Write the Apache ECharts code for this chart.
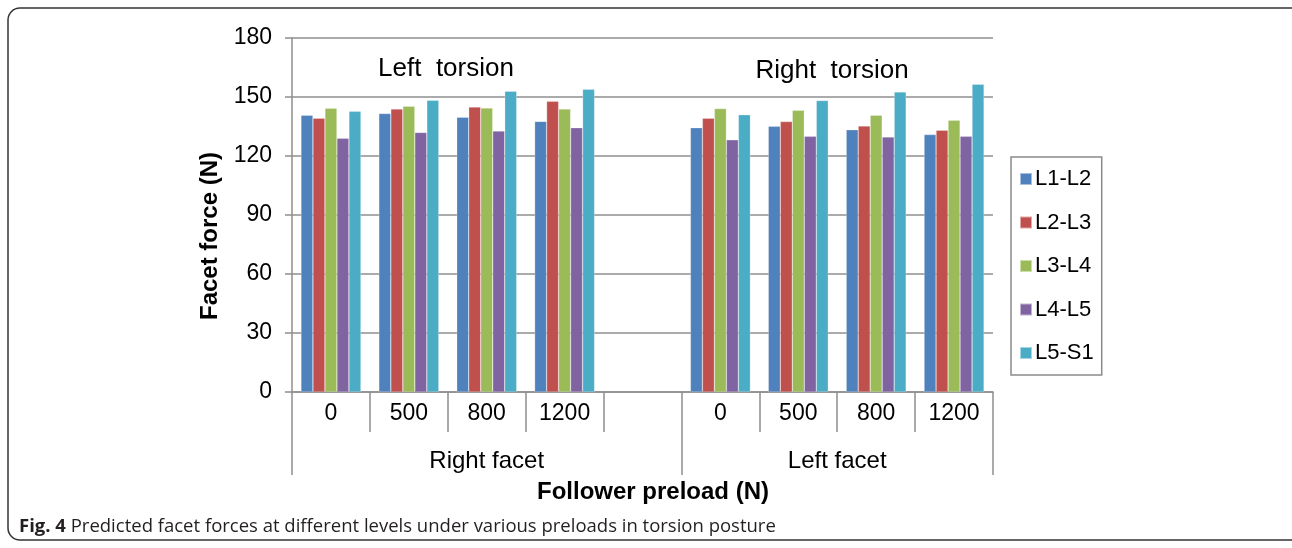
<!DOCTYPE html>
<html>
<head>
<meta charset="utf-8">
<script src="https://cdn.jsdelivr.net/npm/echarts@6/dist/echarts.min.js"></script>
<style>
html,body{margin:0;padding:0;background:#fff;}
#chart{width:1292px;height:548px;}
</style>
</head>
<body>
<div id="chart"></div>
<script>
// ---- data ----
const categories = ['0', '500', '800', '1200', '', '0', '500', '800', '1200'];
const groupLabels = ['Right facet', 'Left facet'];
const seriesNames = ['L1-L2', 'L2-L3', 'L3-L4', 'L4-L5', 'L5-S1'];
const L1_L2 = [140.7, 141.6, 139.7, 137.6, '-', 134.4, 135.1, 133.4, 130.9];
const L2_L3 = [139.2, 143.9, 144.9, 147.8, '-', 139.2, 137.5, 135.3, 133.1];
const L3_L4 = [144.3, 145.3, 144.4, 143.9, '-', 144.1, 143.2, 140.7, 138.2];
const L4_L5 = [129.0, 132.0, 132.7, 134.4, '-', 128.2, 130.0, 129.7, 130.0];
const L5_S1 = [142.7, 148.3, 152.9, 153.9, '-', 141.0, 148.2, 152.6, 156.5];
const yTicks = { min: 0, max: 180, interval: 30 };
const torsionLabels = ['Left  torsion', 'Right  torsion'];

const colors = ['#4F81BD', '#C0504D', '#9BBB59', '#8064A2', '#4BACC6'];
const seriesData = [L1_L2, L2_L3, L3_L4, L4_L5, L5_S1];

// group axis: 19 points spanning 9 categories at half-category steps
const groupAxis = [];
for (let k = 0; k <= 18; k++) groupAxis.push('');
groupAxis[5] = groupLabels[0];
groupAxis[14] = groupLabels[1];
const groupTickIdx = [0, 10, 18];

const axisGray = '#8f8f8f';
const font = '"Liberation Sans", Arial, sans-serif';

const chart = echarts.init(document.getElementById('chart'));
chart.setOption({
  animation: false,
  color: colors,
  grid: { left: 292, top: 38, width: 701, height: 354, containLabel: false },
  legend: {
    orient: 'vertical',
    left: 1011, top: 157,
    width: 94,
    padding: [11, 8, 11, 8],
    itemGap: 21.5,
    itemWidth: 12, itemHeight: 12,
    icon: 'rect',
    borderColor: '#8a8a8a', borderWidth: 1.5,
    textStyle: { fontFamily: font, fontSize: 22, color: '#000', padding: [0, 0, 0, -2] },
    data: seriesNames
  },
  xAxis: [
    {
      type: 'category',
      data: categories,
      position: 'bottom',
      axisLine: { lineStyle: { color: axisGray, width: 1.5 } },
      axisTick: { show: true, length: 40, lineStyle: { color: axisGray, width: 1.5 } },
      axisLabel: { interval: 0, margin: 10, fontFamily: font, fontSize: 23, color: '#000' }
    },
    {
      type: 'category',
      data: groupAxis,
      boundaryGap: false,
      position: 'bottom',
      axisLine: { show: false },
      axisTick: {
        show: true, length: 83,
        interval: (i) => groupTickIdx.includes(i),
        lineStyle: { color: axisGray, width: 1.5 }
      },
      axisLabel: { interval: 0, margin: 57, fontFamily: font, fontSize: 24, color: '#000' },
      splitLine: { show: false }
    }
  ],
  yAxis: {
    type: 'value',
    min: yTicks.min, max: yTicks.max, interval: yTicks.interval,
    axisLine: { show: true, lineStyle: { color: axisGray, width: 1.5 } },
    axisTick: { show: true, length: 7, lineStyle: { color: axisGray, width: 1.5 } },
    axisLabel: { margin: 20, fontFamily: font, fontSize: 23, color: '#000' },
    splitLine: { lineStyle: { color: axisGray, width: 1.5 } }
  },
  series: seriesNames.map((n, i) => ({
    name: n,
    type: 'bar',
    data: seriesData[i],
    barGap: '0%',
    barCategoryGap: '23%',
    itemStyle: { color: colors[i], borderColor: 'rgba(255,255,255,0.5)', borderWidth: 0.5 }
  })),
  graphic: [
    { type: 'rect', shape: { x: 8, y: 8, width: 1310, height: 532, r: 12 },
      style: { fill: 'none', stroke: '#333', lineWidth: 1.5 }, silent: true },
    { type: 'text', x: 446, y: 69, style: { text: torsionLabels[0], font: '26px ' + font, fill: '#000', align: 'center', verticalAlign: 'middle' } },
    { type: 'text', x: 832, y: 71, style: { text: torsionLabels[1], font: '26px ' + font, fill: '#000', align: 'center', verticalAlign: 'middle' } },
    { type: 'text', x: 210, y: 236, rotation: Math.PI / 2, style: { text: 'Facet force (N)', font: 'bold 24px ' + font, fill: '#000', align: 'center', verticalAlign: 'middle' } },
    { type: 'text', x: 653, y: 492, style: { text: 'Follower preload (N)', font: 'bold 24px ' + font, fill: '#000', align: 'center', verticalAlign: 'middle' } },
    { type: 'text', x: 19, y: 527, style: {
        text: '{b|Fig. 4} Predicted facet forces at different levels under various preloads in torsion posture',
        font: '18.5px "Open Sans", sans-serif', fill: '#231f20', verticalAlign: 'middle',
        rich: { b: { fontWeight: 'bold', fontFamily: '"Open Sans", sans-serif', fontSize: 18.5, fill: '#231f20' } }
      } }
  ]
});
</script>
</body>
</html>
